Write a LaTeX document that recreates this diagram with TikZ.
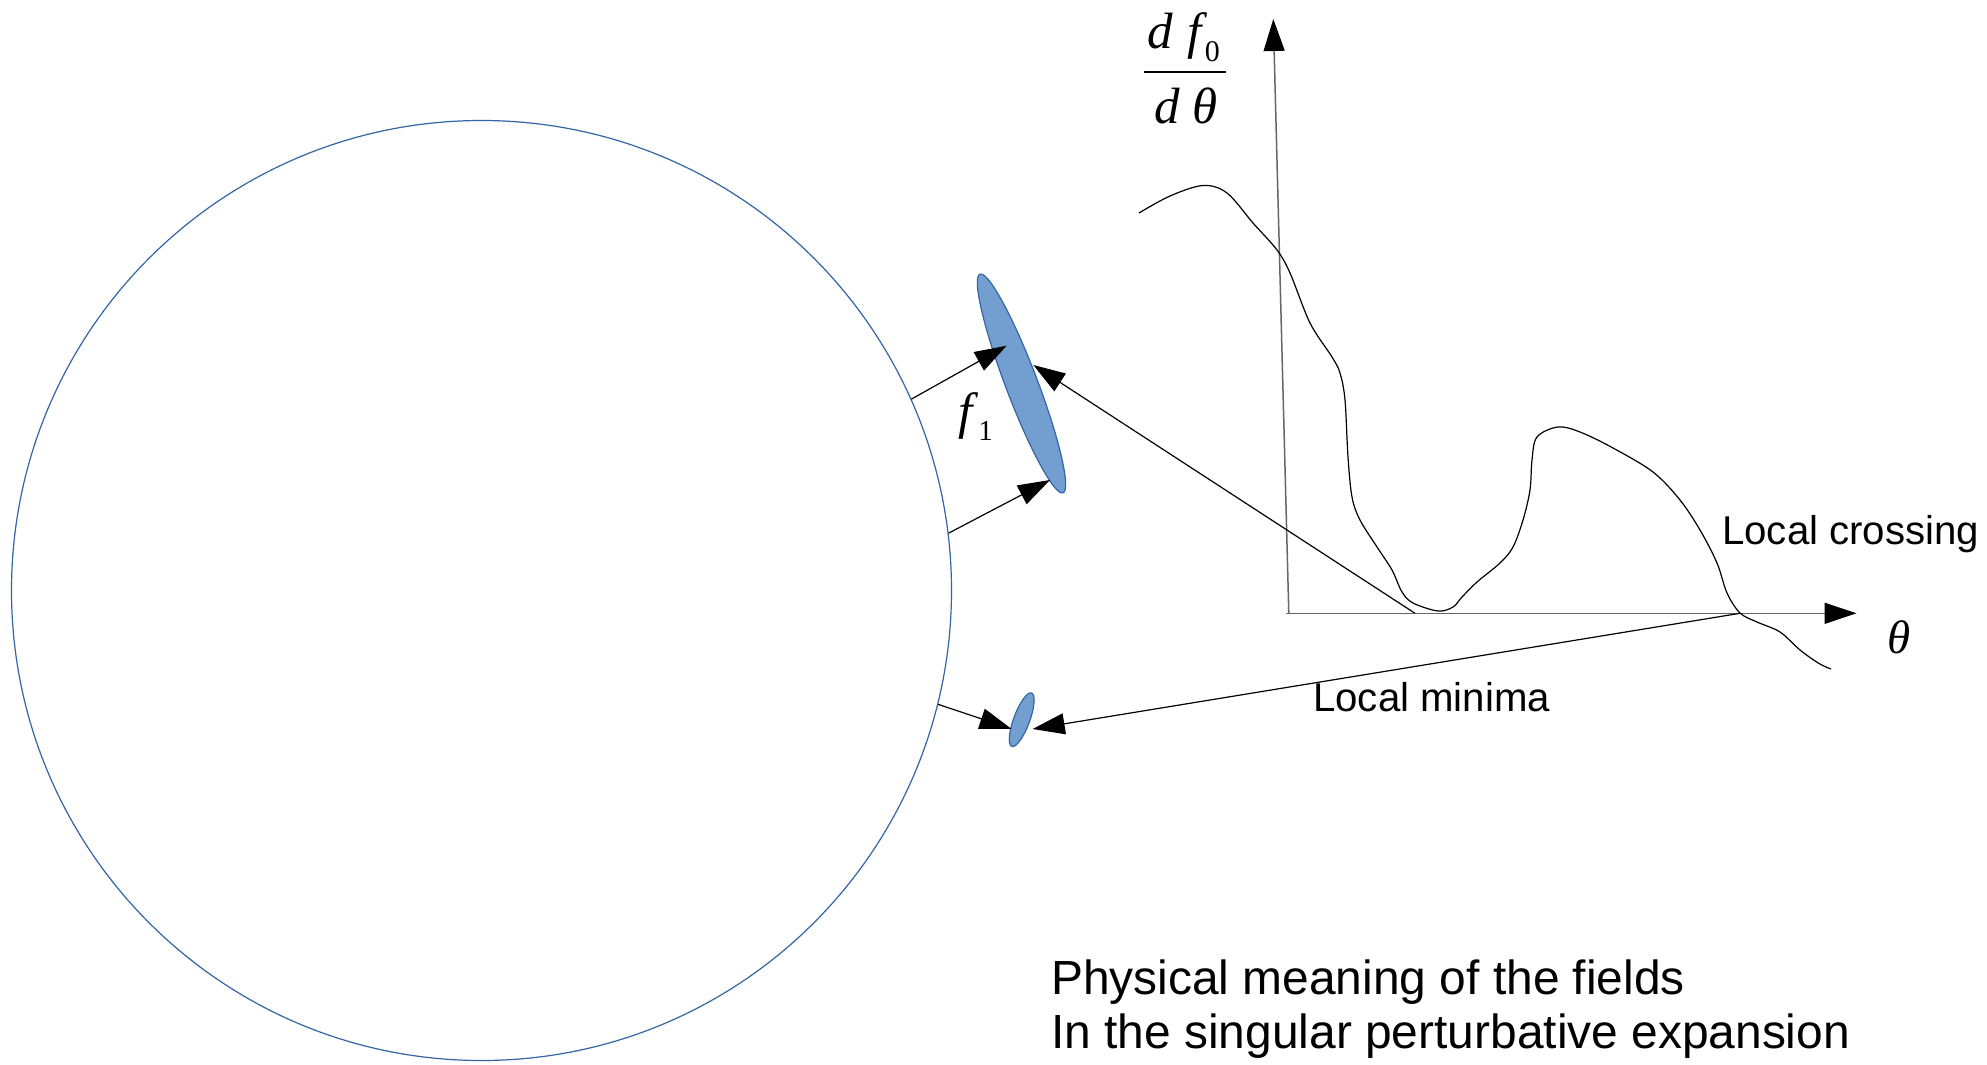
\documentclass[tikz,border=0pt]{standalone}
\usepackage{fontspec}
\setmainfont{Liberation Sans}
\newfontfamily\lserif{Liberation Serif}
\usetikzlibrary{arrows.meta,shapes.geometric}
\definecolor{edgeblue}{HTML}{3465A4}
\definecolor{fillblue}{HTML}{729FCF}
\begin{document}
\begin{tikzpicture}[x=1pt,y=-1pt,
  tipped/.style={-{Triangle[length=32pt,width=21pt,color=black]}},
  conn/.style={line width=1.2pt, black, tipped},
  axisline/.style={line width=1.5pt, black!60},
  blob/.style={ellipse, draw=edgeblue, fill=fillblue, line width=1.2pt, inner sep=0pt},
  lbl/.style={inner sep=0pt, anchor=base west, font=\fontsize{40.2}{46}\selectfont},
  title/.style={inner sep=0pt, anchor=base west, font=\fontsize{47.9}{55}\selectfont},
  mathlbl/.style={inner sep=0pt, anchor=base west, font=\fontsize{51}{51}\selectfont\lserif\itshape}
]
\fill[white] (0,0) rectangle (1987,1065);
\useasboundingbox (0,0) rectangle (1987,1065);

% big circle
\node[circle, draw=edgeblue, line width=1.2pt, minimum size=940pt, inner sep=0pt] (disk) at (481.5,590.5) {};

% blobs
\node[blob, minimum width=234pt, minimum height=32pt, rotate=110.8] (bigblob) at (1021.5,383.5) {};
\node[blob, minimum width=57pt, minimum height=16pt, rotate=69.7] (smallblob) at (1021.7,719.7) {};

% graph axes
\coordinate (ybot) at (1288.8,613.3);
\coordinate (ytop) at (1273.3,19);
\coordinate (xleft) at (1286,613.3);
\coordinate (xright) at (1856.5,613.3);
\coordinate (minpt) at (1415,613.3);
\coordinate (crosspt) at (1740,613.3);
\draw[axisline, tipped] (ybot) -- (ytop);
\draw[axisline, tipped] (xleft) -- (xright);

% curve
\draw[line width=1.2pt] plot[smooth, tension=0.55] coordinates {
 (1139,213) (1170,196) (1203,185.5) (1227,193) (1253,223) (1277,250) (1290,273)
 (1310,323) (1332,357) (1340,373) (1345,400) (1348,457) (1352,497) (1360,520)
 (1377,547) (1392,570) (1402,592) (1413,603) (1438,611) (1453,607) (1462,597)
 (1477,582) (1500,563) (1513,547) (1523,520) (1530,490) (1532,460) (1537,437)
 (1558,427) (1580,432) (1613,448) (1653,472) (1680,500) (1700,530) (1717,563)
 (1727,593) (1740,613) (1757,622) (1780,632) (1800,650) (1819,663.5) (1831,669)};

% arrow tips on the blobs
\coordinate (tipA) at (1006.7,345.7);
\coordinate (tipB) at (1050,480);
\coordinate (tipC) at (1033.3,365);
\coordinate (tipD) at (1011.7,729);
\coordinate (tipE) at (1032.7,729);

\draw[conn] (disk.24.3) -- (tipA);
\draw[conn] (disk.7.4) -- (tipB);
\draw[conn] (minpt) -- (tipC);
\draw[conn] (disk.-14.8) -- (tipD);
\draw[conn] (crosspt) -- (tipE);

% labels
\node[mathlbl] (fone) at (958,428) {f\kern6pt\raisebox{-12.5pt}{\fontsize{29}{29}\selectfont\upshape 1}};
\node[mathlbl] (numer) at (1147,48.3) {d\kern15pt f\kern3pt\raisebox{-13.5pt}{\fontsize{30}{30}\selectfont\upshape 0}};
\node[mathlbl] (denom) at (1154,123.3) {d\kern13pt θ};
\draw[line width=2.7pt] (1144,72) -- (1226,72);
\node[inner sep=0pt, anchor=base west, font=\fontsize{47}{47}\selectfont\lserif\itshape] (thetalbl) at (1887,653) {θ};

\node[lbl] (crosslbl) at (1722,544) {Local crossing};
\node[lbl] (minlbl) at (1313,711) {Local minima};
\node[title] (titleA) at (1051,994) {Physical meaning of the fields};
\node[title] (titleB) at (1051,1048.3) {In the singular perturbative expansion};
\end{tikzpicture}
\end{document}
